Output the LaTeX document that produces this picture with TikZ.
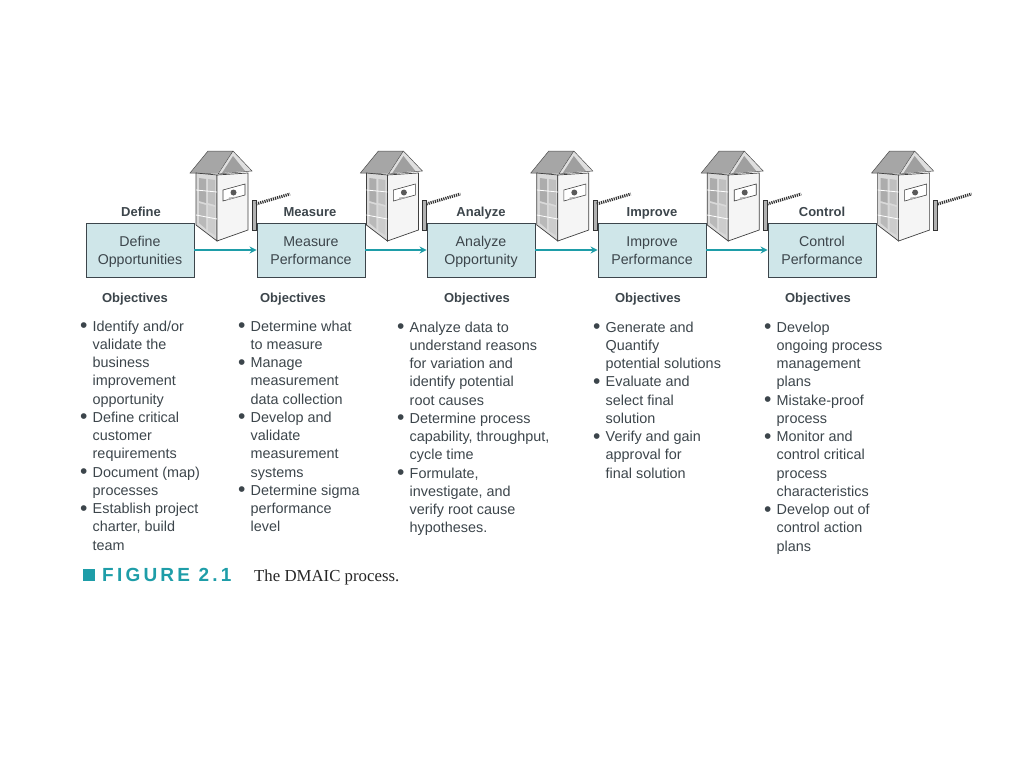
\documentclass[tikz,border=0pt]{standalone}
\usepackage{fontspec}
\usetikzlibrary{arrows.meta}
\setmainfont{Liberation Sans}
\newfontfamily\capfont[LetterSpace=17]{Liberation Sans}
\newfontfamily\serifcap{Liberation Serif}
\definecolor{tealline}{HTML}{1E9DA8}
\definecolor{boxfill}{HTML}{CFE6E9}
\definecolor{inktext}{HTML}{3C454B}
\newcommand{\bul}{\makebox[12.5pt][l]{\fontsize{21}{21}\selectfont\raisebox{-1.5pt}{\textbullet}}}
\newcommand{\ind}{\hspace*{12.5pt}}
\newcommand{\topstrut}{\rule{0pt}{16pt}}
\tikzset{
    stagebox/.style={draw=inktext,fill=boxfill,line width=0.9pt,minimum width=108pt,minimum height=54pt,inner sep=0pt,align=center,text=inktext,font=\fontsize{14.2}{17.5}\selectfont},
    stagetitle/.style={font=\fontsize{13}{15}\selectfont\bfseries,text=inktext,inner sep=0pt,text depth=0pt},
    objlist/.style={anchor=north west,align=left,inner sep=0pt,text=inktext,font=\fontsize{14.4}{18.25}\selectfont},
    flowarrow/.style={draw=tealline,line width=2pt,-{Stealth[length=7pt,width=7pt]}},
    booth/.pic={
        % roof
        \fill[gray!70] (-6,0) -- (12,-22) -- (37,-22) -- (22,0) -- cycle;
        \fill[gray!25] (37,-22) -- (22,1) -- (56,-2) -- cycle;
        \fill[gray!75] (37,-17) -- (26,0) -- (49,-2) -- cycle;
        \draw[gray!60!black,line width=0.5pt] (-6,0) -- (12,-22) -- (37,-22) -- (56,-2) -- (22,1) -- cycle (22,1) -- (37,-22);
        % walls
        \fill[gray!30,draw=gray!50!black,line width=0.7pt] (0,0) -- (21,2) -- (21,68) -- (0,52) -- cycle;
        \fill[gray!8,draw=gray!50!black,line width=0.7pt] (21,2) -- (52,0) -- (52,57) -- (21,68) -- cycle;
        \fill[gray!65] (3,5) -- (10,6) -- (10,30) -- (3,28) -- cycle;
        \fill[gray!50] (12,6) -- (19,7) -- (19,32) -- (12,30) -- cycle;
        \fill[gray!55] (3,30) -- (10,32) -- (10,56) -- (3,50) -- cycle;
        \fill[gray!40] (12,32) -- (19,34) -- (19,62) -- (12,58) -- cycle;
        \draw[white,line width=0.8pt] (0,17) -- (21,19) (0,42) -- (21,46);
        % window and guard
        \fill[white,draw=gray!50!black,line width=0.6pt] (27,17) -- (49,11) -- (49,22) -- (27,28) -- cycle;
        \fill[gray!70!black] (37.5,19.5) circle (3pt);
        \fill[gray!60] (32,27) -- (33,24.5) -- (42,23.5) -- (43,23.5) -- cycle;
        % gate post and bar
        \fill[gray!60,draw=black!80,line width=0.6pt] (56,27) rectangle (60,57);
        \draw[black!80,line width=3pt,dash pattern=on 1.2pt off 1pt] (60,31) -- (94,21);
    }
}
\begin{document}
\begin{tikzpicture}[x=1pt,y=-1pt]
    \useasboundingbox (0,0) rectangle (1024,768);
    % booths behind the row of stages
    \foreach \i in {0,...,4} {
        \pic at ({196+170.4*\i},173) {booth};
    }

    \node[stagebox] (define) at (140,250) {\topstrut Define\\\strut Opportunities};
    \node[stagebox] (measure) at (311,250) {\topstrut Measure\\\strut Performance};
    \node[stagebox] (analyze) at (481,250) {\topstrut Analyze\\\strut Opportunity};
    \node[stagebox] (improve) at (652,250) {\topstrut Improve\\\strut Performance};
    \node[stagebox] (control) at (822,250) {\topstrut Control\\\strut Performance};

    \node[stagetitle] (definetitle) at (141,212) {Define};
    \node[stagetitle] (measuretitle) at (310,212) {Measure};
    \node[stagetitle] (analyzetitle) at (481,212) {Analyze};
    \node[stagetitle] (improvetitle) at (652,212) {Improve};
    \node[stagetitle] (controltitle) at (822,212) {Control};

    \draw[flowarrow] (define) -- (measure);
    \draw[flowarrow] (measure) -- (analyze);
    \draw[flowarrow] (analyze) -- (improve);
    \draw[flowarrow] (improve) -- (control);

    \node[stagetitle] (defineobj) at (135,298) {Objectives};
    \node[stagetitle] (measureobj) at (293,298) {Objectives};
    \node[stagetitle] (analyzeobj) at (477,298) {Objectives};
    \node[stagetitle] (improveobj) at (648,298) {Objectives};
    \node[stagetitle] (controlobj) at (818,298) {Objectives};

    \node[objlist] (definelist) at (80,320.5) {
        \bul Identify and/or\\
        \ind validate the\\
        \ind business\\
        \ind improvement\\
        \ind opportunity\\
        \bul Define critical\\
        \ind customer\\
        \ind requirements\\
        \bul Document (map)\\
        \ind processes\\
        \bul Establish project\\
        \ind charter, build\\
        \ind team};
    \node[objlist] (measurelist) at (238,320.5) {
        \bul Determine what\\
        \ind to measure\\
        \bul Manage\\
        \ind measurement\\
        \ind data collection\\
        \bul Develop and\\
        \ind validate\\
        \ind measurement\\
        \ind systems\\
        \bul Determine sigma\\
        \ind performance\\
        \ind level};
    \node[objlist] (analyzelist) at (397,321.5) {
        \bul Analyze data to\\
        \ind understand reasons\\
        \ind for variation and\\
        \ind identify potential\\
        \ind root causes\\
        \bul Determine process\\
        \ind capability, throughput,\\
        \ind cycle time\\
        \bul Formulate,\\
        \ind investigate, and\\
        \ind verify root cause\\
        \ind hypotheses.};
    \node[objlist] (improvelist) at (593,321.5) {
        \bul Generate and\\
        \ind Quantify\\
        \ind potential solutions\\
        \bul Evaluate and\\
        \ind select final\\
        \ind solution\\
        \bul Verify and gain\\
        \ind approval for\\
        \ind final solution};
    \node[objlist] (controllist) at (764,321.5) {
        \bul Develop\\
        \ind ongoing process\\
        \ind management\\
        \ind plans\\
        \bul Mistake-proof\\
        \ind process\\
        \bul Monitor and\\
        \ind control critical\\
        \ind process\\
        \ind characteristics\\
        \bul Develop out of\\
        \ind control action\\
        \ind plans};

    % caption
    \node[fill=tealline,minimum size=12.5pt,inner sep=0pt] (capmark) at (89,575) {};
    \node[anchor=west,inner sep=0pt,text=tealline,font=\capfont\fontsize{19}{20}\selectfont\bfseries] (capnum) at (102,575) {FIGURE 2.1};
    \node[anchor=west,inner sep=0pt,text=black!85,font=\serifcap\fontsize{16.8}{18}\selectfont] (captext) at (254,577) {The DMAIC process.};
\end{tikzpicture}
\end{document}
